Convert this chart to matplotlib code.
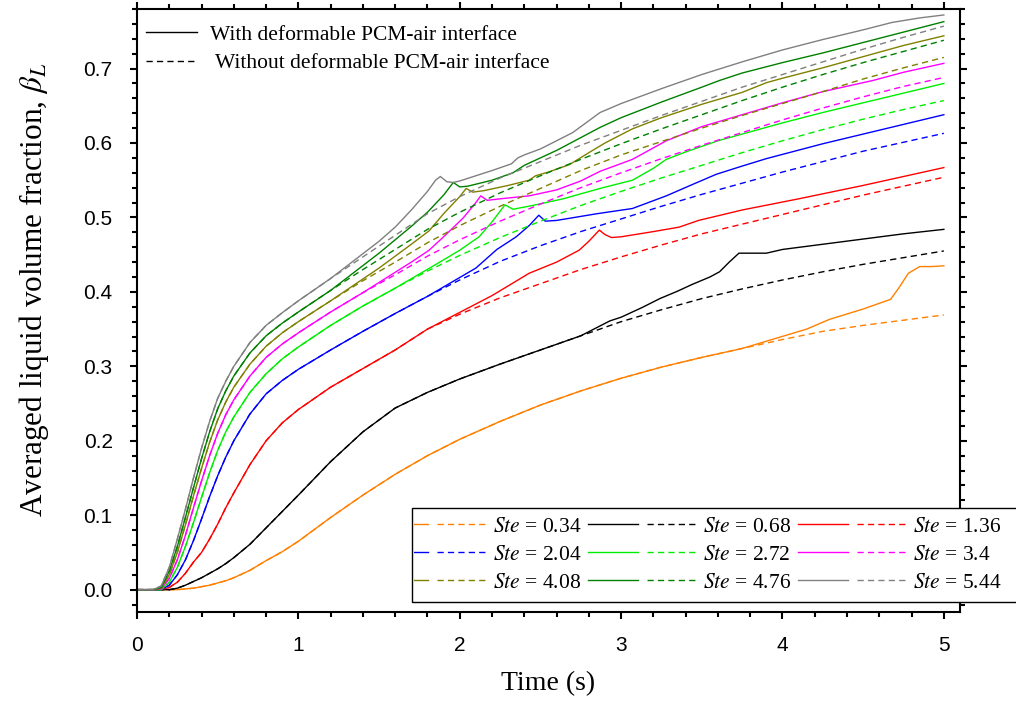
import matplotlib
matplotlib.use("Agg")
import matplotlib.pyplot as plt
from matplotlib.legend_handler import HandlerTuple
from matplotlib.lines import Line2D
from matplotlib.patches import Rectangle
from matplotlib.ticker import MultipleLocator, FormatStrFormatter
from matplotlib.transforms import Bbox, TransformedBbox

plt.rcParams["font.family"] = "Liberation Serif"
plt.rcParams["mathtext.fontset"] = "stix"

# Ste values and colours (Origin-like palette)
STE = ["0.34", "0.68", "1.36", "2.04", "2.72", "3.4", "4.08", "4.76", "5.44"]
COLORS = ["#FF8000", "#000000", "#FF0000", "#0000FF", "#00EE00",
          "#FF00FF", "#808000", "#008000", "#808080"]

# time grid for the "without deformable interface" (dashed) curves
T_D = [0, 0.1, 0.15, 0.2, 0.25, 0.3, 0.35, 0.4, 0.45, 0.5, 0.55, 0.6, 0.7, 0.8,
       0.9, 1.0, 1.2, 1.4, 1.6, 1.8, 2.0, 2.25, 2.5, 2.75, 3.0, 3.25, 3.5,
       3.75, 4.0, 4.25, 4.5, 4.75, 5.0]

d_034 = [0, 0, 0, 0, 0, 0.001, 0.002, 0.004, 0.006, 0.009, 0.012, 0.016, 0.026,
         0.039, 0.051, 0.065, 0.097, 0.127, 0.155, 0.18, 0.202, 0.226, 0.248,
         0.267, 0.284, 0.299, 0.312, 0.324, 0.336, 0.347, 0.355, 0.362, 0.369]
d_068 = [0, 0, 0, 0, 0.002, 0.006, 0.011, 0.016, 0.022, 0.028, 0.035, 0.043,
         0.061, 0.083, 0.105, 0.127, 0.172, 0.212, 0.244, 0.265, 0.283, 0.303,
         0.322, 0.341, 0.36, 0.376, 0.391, 0.404, 0.416, 0.427, 0.437, 0.446,
         0.455]
d_136 = [0, 0, 0, 0.003, 0.01, 0.022, 0.037, 0.05, 0.068, 0.088, 0.11, 0.13,
         0.168, 0.2, 0.224, 0.242, 0.272, 0.297, 0.322, 0.35, 0.37, 0.392,
         0.411, 0.43, 0.447, 0.463, 0.478, 0.491, 0.504, 0.517, 0.53, 0.542,
         0.554]
d_204 = [0, 0, 0, 0.006, 0.02, 0.04, 0.066, 0.095, 0.125, 0.153, 0.178, 0.2,
         0.236, 0.263, 0.281, 0.296, 0.322, 0.347, 0.371, 0.394, 0.416, 0.441,
         0.462, 0.481, 0.498, 0.515, 0.531, 0.546, 0.561, 0.575, 0.589, 0.601,
         0.613]
d_272 = [0, 0, 0, 0.01, 0.03, 0.058, 0.09, 0.124, 0.157, 0.187, 0.212, 0.232,
         0.265, 0.29, 0.31, 0.326, 0.355, 0.381, 0.405, 0.428, 0.449, 0.473,
         0.495, 0.516, 0.535, 0.553, 0.57, 0.587, 0.603, 0.618, 0.632, 0.645,
         0.657]
d_340 = [0, 0, 0.001, 0.015, 0.04, 0.073, 0.11, 0.146, 0.18, 0.21, 0.235, 0.255,
         0.287, 0.312, 0.33, 0.345, 0.373, 0.399, 0.423, 0.448, 0.47, 0.495,
         0.518, 0.54, 0.56, 0.579, 0.597, 0.614, 0.631, 0.647, 0.662, 0.676,
         0.688]
d_408 = [0, 0, 0.002, 0.02, 0.05, 0.087, 0.126, 0.163, 0.198, 0.228, 0.252,
         0.272, 0.303, 0.327, 0.345, 0.36, 0.388, 0.415, 0.44, 0.466, 0.489,
         0.515, 0.539, 0.563, 0.584, 0.602, 0.62, 0.637, 0.653, 0.669, 0.686,
         0.701, 0.715]
d_476 = [0, 0, 0.003, 0.025, 0.058, 0.097, 0.137, 0.176, 0.212, 0.243, 0.267,
         0.287, 0.318, 0.341, 0.358, 0.373, 0.402, 0.43, 0.457, 0.484, 0.507,
         0.533, 0.556, 0.578, 0.599, 0.619, 0.638, 0.657, 0.675, 0.692, 0.708,
         0.723, 0.738]
d_544 = [0, 0, 0.005, 0.03, 0.068, 0.108, 0.15, 0.19, 0.226, 0.257, 0.28, 0.3,
         0.332, 0.355, 0.372, 0.388, 0.418, 0.447, 0.476, 0.505, 0.528, 0.553,
         0.575, 0.597, 0.617, 0.637, 0.656, 0.675, 0.692, 0.709, 0.726, 0.742,
         0.757]

# "with deformable interface" (solid) curves: shared start with the dashed
# curve up to the index in SPLIT, then their own points
SPLIT = [28, 24, 20, 20, 19, 18, 17, 17, 17]

ts_034 = [4.15, 4.29, 4.5, 4.67, 4.72, 4.78, 4.85, 4.92, 5.0]
bs_034 = [0.35, 0.363, 0.377, 0.39, 0.405, 0.425, 0.434, 0.434, 0.435]
ts_068 = [2.93, 3.0, 3.13, 3.24, 3.35, 3.44, 3.55, 3.61, 3.67, 3.73, 3.9, 4.0,
          4.25, 4.5, 4.75, 5.0]
bs_068 = [0.361, 0.366, 0.379, 0.391, 0.401, 0.41, 0.42, 0.427, 0.44, 0.452,
          0.452, 0.457, 0.464, 0.471, 0.478, 0.484]
ts_136 = [2.2, 2.43, 2.6, 2.74, 2.8, 2.865, 2.9, 2.94, 3.0, 3.2, 3.36, 3.48,
          3.75, 4.1, 4.5, 5.0]
bs_136 = [0.395, 0.425, 0.44, 0.456, 0.468, 0.483, 0.477, 0.473, 0.474, 0.481,
          0.487, 0.496, 0.51, 0.525, 0.543, 0.567]
ts_204 = [2.1, 2.23, 2.35, 2.43, 2.49, 2.53, 2.6, 2.85, 3.07, 3.28, 3.45, 3.59,
          3.75, 3.9, 4.25, 4.5, 4.75, 5.0]
bs_204 = [0.432, 0.457, 0.474, 0.489, 0.503, 0.495, 0.496, 0.505, 0.512, 0.529,
          0.545, 0.558, 0.569, 0.579, 0.599, 0.612, 0.625, 0.638]
ts_272 = [1.9, 2.0, 2.12, 2.2, 2.28, 2.33, 2.45, 2.64, 2.87, 3.07, 3.2, 3.28,
          3.4, 3.6, 3.9, 4.0, 4.25, 4.5, 4.75, 5.0]
bs_272 = [0.443, 0.456, 0.474, 0.494, 0.517, 0.511, 0.516, 0.525, 0.539, 0.55,
          0.566, 0.578, 0.588, 0.603, 0.621, 0.627, 0.641, 0.654, 0.667, 0.68]
ts_340 = [1.7, 1.81, 1.9, 2.02, 2.1, 2.13, 2.17, 2.25, 2.43, 2.6, 2.75, 2.87,
          3.07, 3.28, 3.5, 3.75, 4.0, 4.25, 4.56, 4.75, 5.0]
bs_340 = [0.44, 0.456, 0.474, 0.499, 0.52, 0.529, 0.523, 0.525, 0.529, 0.537,
          0.549, 0.562, 0.578, 0.603, 0.622, 0.638, 0.654, 0.669, 0.684, 0.695,
          0.707]
ts_408 = [1.5, 1.6, 1.7, 1.81, 1.9, 2.0, 2.04, 2.08, 2.15, 2.3, 2.43, 2.47, 2.55,
          2.68, 2.8, 2.9, 3.07, 3.25, 3.5, 3.75, 3.9, 4.0, 4.25, 4.5, 4.75, 5.0]
bs_408 = [0.432, 0.448, 0.464, 0.482, 0.505, 0.528, 0.539, 0.534, 0.536, 0.543,
          0.55, 0.556, 0.561, 0.571, 0.587, 0.6, 0.619, 0.634, 0.652, 0.668,
          0.681, 0.687, 0.701, 0.716, 0.731, 0.744]
ts_476 = [1.5, 1.6, 1.7, 1.8, 1.9, 1.96, 2.0, 2.05, 2.2, 2.33, 2.4, 2.45, 2.6,
          2.87, 3.0, 3.25, 3.5, 3.61, 3.75, 4.0, 4.25, 4.5, 4.75, 5.0]
bs_476 = [0.452, 0.47, 0.488, 0.507, 0.53, 0.547, 0.541, 0.542, 0.55, 0.56,
          0.57, 0.575, 0.59, 0.621, 0.634, 0.655, 0.675, 0.684, 0.694, 0.708,
          0.721, 0.735, 0.749, 0.763]
ts_544 = [1.5, 1.6, 1.7, 1.8, 1.85, 1.88, 1.92, 1.96, 2.0, 2.2, 2.32, 2.36, 2.4,
          2.5, 2.7, 2.87, 3.0, 3.25, 3.5, 3.75, 4.0, 4.25, 4.5, 4.68, 4.85, 5.0]
bs_544 = [0.468, 0.487, 0.51, 0.535, 0.55, 0.555, 0.548, 0.547, 0.549, 0.563,
          0.572, 0.58, 0.584, 0.592, 0.614, 0.641, 0.653, 0.673, 0.692, 0.709,
          0.725, 0.739, 0.752, 0.762, 0.768, 0.772]

DASHED = [d_034, d_068, d_136, d_204, d_272, d_340, d_408, d_476, d_544]
SOLID_T = [ts_034, ts_068, ts_136, ts_204, ts_272, ts_340, ts_408, ts_476, ts_544]
SOLID_B = [bs_034, bs_068, bs_136, bs_204, bs_272, bs_340, bs_408, bs_476, bs_544]

W, H = 1016, 708
fig = plt.figure(figsize=(W / 100, H / 100), dpi=100)
ax = fig.add_axes([137 / W, 96 / H, 823 / W, 603 / H])

DASH = (0, (4.5, 3))
handles = []
for ste, col, dv, k, st, sb in zip(STE, COLORS, DASHED, SPLIT, SOLID_T, SOLID_B):
    ld, = ax.plot(T_D, dv, color=col, lw=1.0, ls=DASH)
    ls_, = ax.plot(T_D[:k] + st, dv[:k] + sb, color=col, lw=1.0)
    handles.append(((ls_, ld), r"$\mathit{Ste}$ = " + ste))

ax.set_xlim(0, 5.1)
ax.set_ylim(-0.03, 0.78)
ax.xaxis.set_major_locator(MultipleLocator(1))
ax.xaxis.set_minor_locator(MultipleLocator(0.2))
ax.set_yticks([0, 0.1, 0.2, 0.3, 0.4, 0.5, 0.6, 0.7])
ax.yaxis.set_minor_locator(MultipleLocator(0.02))
ax.yaxis.set_major_formatter(FormatStrFormatter("%.1f"))
ax.tick_params(which="both", direction="out", top=True, right=True, width=1.5)
ax.tick_params(which="major", length=5, pad=12.5)
ax.tick_params(which="minor", length=3.5)
for lab in ax.get_xticklabels() + ax.get_yticklabels():
    lab.set_fontfamily("Liberation Sans")
    lab.set_fontsize(15)
for sp in ax.spines.values():
    sp.set_linewidth(1.5)

ax.set_xlabel("Time (s)", fontsize=20)
ax.xaxis.set_label_coords(0.5, -0.098)
ax.set_ylabel(r"Averaged liquid volume fraction, $\beta_L$", fontsize=22.5)
ax.yaxis.set_label_coords(-0.105, 0.534)

# top legend (line style meaning)
l1, = ax.plot([], [], color="black", lw=1.0)
l2, = ax.plot([], [], color="black", lw=1.0, ls=DASH)
leg1 = ax.legend([l1, l2], ["With deformable PCM-air interface",
                            " Without deformable PCM-air interface"],
                 loc="upper left", bbox_to_anchor=(0.0, 0.988), frameon=False,
                 fontsize=15.5, handlelength=2.4, handletextpad=0.6,
                 borderaxespad=0.0, borderpad=0.4, labelspacing=0.38)
ax.add_artist(leg1)

# Ste legend, 3 x 3, filled row by row, inside a box that cuts the left handles
box = Rectangle((412 / W, (H - 602) / H), 620 / W, 94 / H,
                transform=fig.transFigure, facecolor="white",
                edgecolor="black", lw=1.0, zorder=4.9, clip_on=False)
ax.add_artist(box)

order = [0, 3, 6, 1, 4, 7, 2, 5, 8]
leg2 = ax.legend([handles[i][0] for i in order], [handles[i][1] for i in order],
                 handler_map={tuple: HandlerTuple(ndivide=None, pad=0.42)},
                 ncol=3, loc="lower left",
                 bbox_to_anchor=(378 / W, (H - 593) / H),
                 bbox_transform=fig.transFigure,
                 fontsize=15.5, handlelength=5.07, handletextpad=0.28,
                 columnspacing=0.3, labelspacing=0.38, borderpad=0.0,
                 borderaxespad=0.0, frameon=False)
clip = TransformedBbox(Bbox.from_extents(413.5 / W, 0, 1, 1), fig.transFigure)
for ln in leg2.findobj(Line2D):
    ln.set_clip_box(clip)
    ln.set_clip_on(True)

fig.savefig("out.png", dpi=100)
